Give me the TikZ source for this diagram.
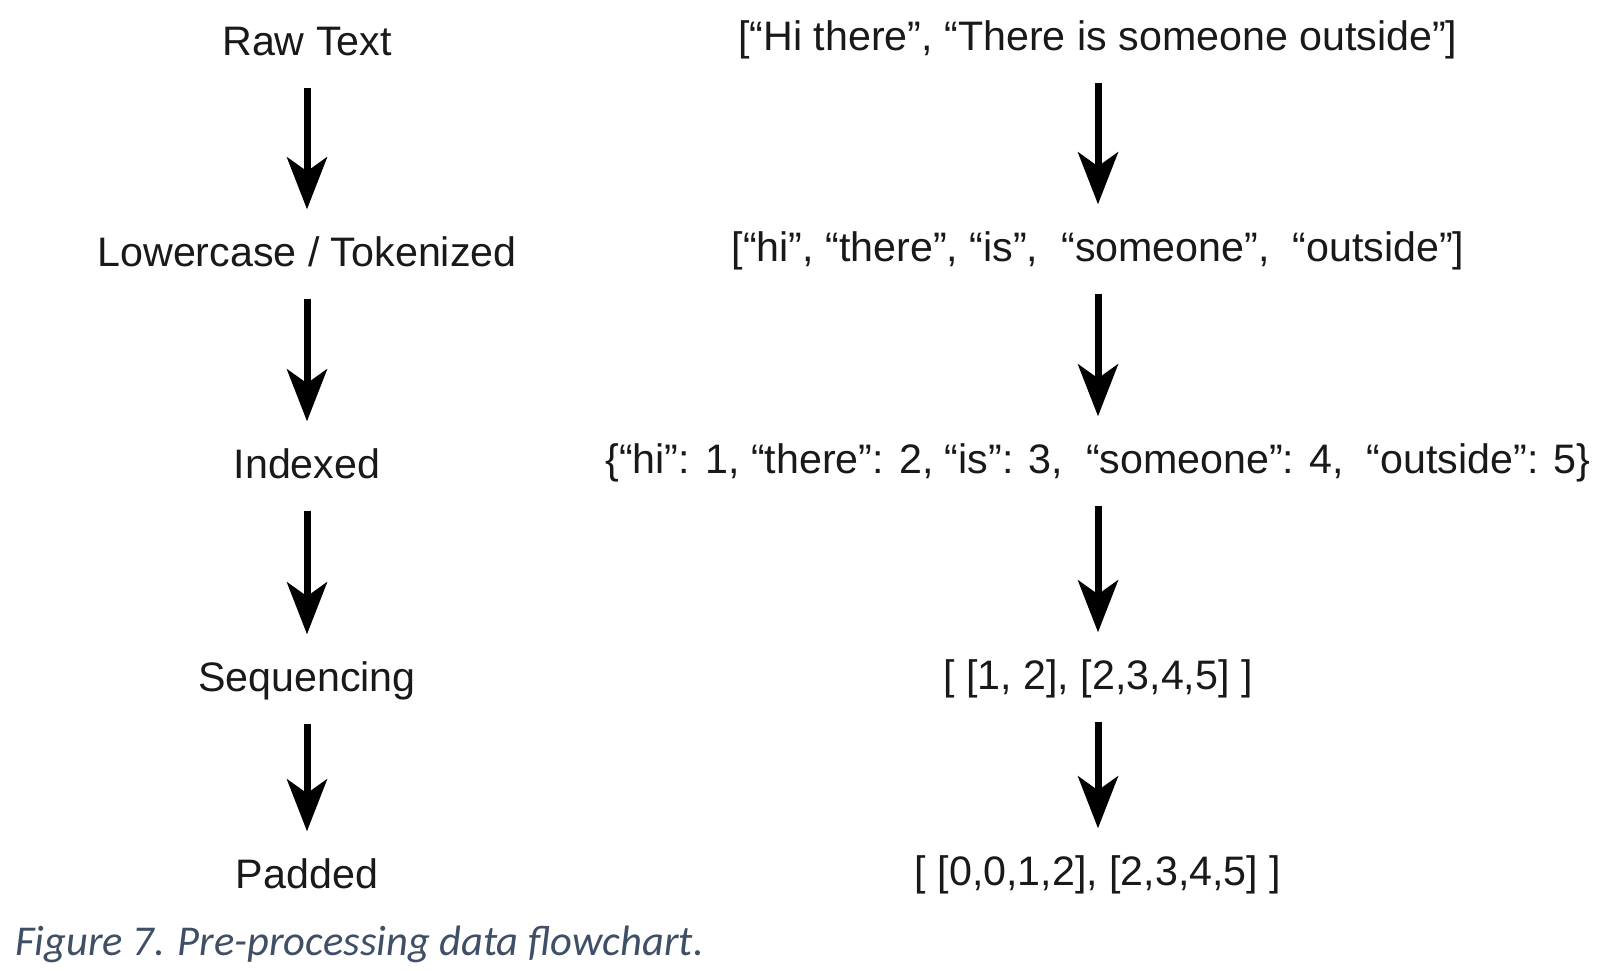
\documentclass[tikz,border=0pt]{standalone}
\usepackage{fontspec}
\setmainfont{Liberation Sans}
\newfontfamily\capfont{Carlito}
\usetikzlibrary{arrows.meta}
\definecolor{capblue}{HTML}{3F4F66}
\begin{document}
\begin{tikzpicture}[x=1pt,y=-1pt,
  lbl/.style={font=\fontsize{41.2}{48}\selectfont, inner sep=0pt, text height=30pt, text depth=9pt, text=black!90},
  arr/.style={line width=7pt, shorten <=23pt, shorten >=27pt, -{Stealth[length=52pt,width=40pt,inset=14pt]}},
  captext/.style={font=\capfont\itshape\fontsize{42.5}{50}\selectfont, text=capblue, inner sep=0pt, anchor=west}]
\useasboundingbox (0,0) rectangle (1616,970);
\fill[white] (0,0) rectangle (1616,970);
% left column
\node[lbl] (l1) at (307,45) {Raw Text};
\node[lbl] (l2) at (307,256) {Lowercase / Tokenized};
\node[lbl] (l3) at (307,468) {Indexed};
\node[lbl] (l4) at (307,681) {Sequencing};
\node[lbl] (l5) at (307,878) {Padded};
% right column
\node[lbl] (r1) at (1098,40) {[“Hi there”, “There is someone outside”]};
\node[lbl] (r2) at (1098,251) {[“hi”, “there”, “is”, \ “someone”, \ “outside”]};
\node[lbl] (r3) at (1098,463) {\{“hi”: 1, “there”: 2, “is”: 3, \ “someone”: 4, \ “outside”: 5\}};
\node[lbl] (r4) at (1098,679) {[ [1, 2], [2,3,4,5] ]};
\node[lbl] (r5) at (1098,875) {[ [0,0,1,2], [2,3,4,5] ]};
% arrows
\draw[arr] (l1) -- (l2);
\draw[arr] (l2) -- (l3);
\draw[arr] (l3) -- (l4);
\draw[arr] (l4) -- (l5);
\draw[arr] (r1) -- (r2);
\draw[arr] (r2) -- (r3);
\draw[arr] (r3) -- (r4);
\draw[arr] (r4) -- (r5);
% caption
\node[captext] (caption) at (15,944) {Figure 7. Pre-processing data flowchart.};
\end{tikzpicture}
\end{document}
